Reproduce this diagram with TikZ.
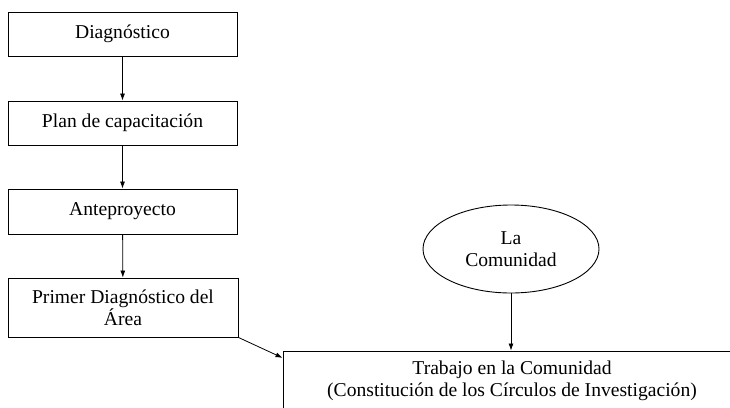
\documentclass[tikz,border=0pt]{standalone}
\usepackage{fontspec}
\setmainfont{Liberation Serif}
\usetikzlibrary{shapes.geometric,arrows.meta,calc}
\begin{document}
\begin{tikzpicture}[x=1pt,y=-1pt,
  font=\fontsize{19.6}{22}\selectfont,
  every node/.style={inner sep=0pt,align=center},
  stepbox/.style={draw,line width=0.9pt,minimum width=229pt},
  oval/.style={draw,ellipse,line width=0.9pt,minimum width=176pt,minimum height=88pt},
  conn/.style={line width=0.8pt,-{Latex[length=7pt,width=5pt]}}]
\useasboundingbox (0,0) rectangle (730,407);
\clip (0,0) rectangle (730,407);
\node[stepbox,minimum height=44pt] (d1) at (122.5,34) {Diagnóstico};
\node[stepbox,minimum height=44pt] (d2) at (122.5,123) {Plan de capacitación};
\node[stepbox,minimum height=45pt] (d3) at (122.5,211.5) {Anteproyecto};
\node[stepbox,minimum width=230pt,minimum height=59pt] (d4) at (123,307.5) {Primer Diagnóstico del\\Área};
\node[oval] (com) at (511,249) {La\\Comunidad};
\node[draw,line width=0.9pt,minimum width=458pt,minimum height=60pt] (tb) at (512,381) {Trabajo en la Comunidad\\(Constitución de los Círculos de Investigación)};
\draw[conn] (d1) -- (d2);
\draw[conn] (d2) -- (d3);
\draw[conn] (d3) -- (d4);
\draw[conn] (d4.south east) -- ($(tb.north west)!0.12!(tb.south west)$);
\draw[conn] (com.south) -- (com.south |- tb.north);
\end{tikzpicture}
\end{document}
